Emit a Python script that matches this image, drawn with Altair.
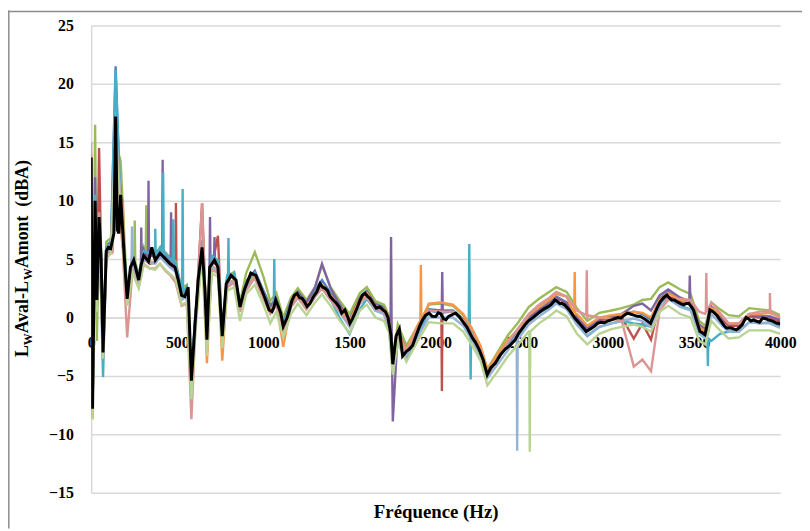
import altair as alt
import pandas as pd

# ---------------- data ----------------
FREQ_GRID = [0, 8, 23, 33, 46, 69, 88, 115, 142, 171,
             209, 240, 276, 305, 340, 372, 400, 430, 460, 490,
             525, 555, 582, 605, 644, 672, 700, 736, 761, 790,
             830, 864, 900, 950, 1000, 1040, 1075, 1115, 1160, 1200,
             1250, 1300, 1340, 1390, 1440, 1500, 1560, 1600, 1650, 1700,
             1730, 1751, 1780, 1830, 1900, 1960, 2030, 2100, 2160, 2220,
             2260, 2300, 2350, 2420, 2480, 2540, 2600, 2660, 2700, 2760,
             2820, 2880, 2950, 3020, 3080, 3150, 3200, 3250, 3300, 3350,
             3420, 3480, 3530, 3565, 3600, 3650, 3700, 3760, 3820, 3880,
             3940, 4000]

S_BLUE = [12.5, -8.2, 9.5, 2.5, 7.5, -2.0, 6.2, 6.5, 21.5, 9.0,
          2.0, 5.0, 3.5, 5.6, 5.3, 5.3, 5.8, 5.4, 4.9, 4.6,
          2.2, 2.5, -5.0, 0.0, 6.5, -1.5, 5.0, 4.6, -1.2, 3.4,
          3.7, 1.2, 3.1, 4.0, 2.3, 1.0, 1.7, -0.4, 1.5, 2.3,
          1.3, 2.4, 3.2, 2.1, 1.1, -0.2, 1.8, 2.3, 1.2, 0.9,
          -0.2, -3.6, -1.0, -2.6, -0.9, 0.7, 0.6, 0.6, -0.1, -1.6,
          -2.7, -4.6, -3.6, -2.2, -1.2, 0.0, 0.7, 1.3, 1.8, 1.3,
          0.0, -0.9, -0.2, 0.1, 0.3, 0.5, 0.3, -0.2, 1.6, 2.2,
          1.5, 1.2, -0.8, -1.2, 0.9, 0.1, -0.6, -0.6, 0.2, 0.1,
          0.1, -0.3]

S_RED = [13.0, -7.5, 9.0, 1.0, 14.5, -3.5, 5.5, 6.0, 16.0, 10.0,
         1.2, 4.5, 3.0, 5.0, 4.6, 4.7, 5.2, 4.8, 4.3, 4.0,
         1.7, 2.0, -5.6, -0.6, 9.8, -2.2, 4.3, 7.0, -1.8, 2.9,
         3.2, 0.7, 2.6, 3.5, 1.8, 0.5, 1.2, -1.0, 1.0, 1.8,
         0.8, 1.9, 2.6, 1.6, 0.6, -0.7, 1.3, 1.8, 0.7, 0.4,
         -0.7, -4.2, -1.5, -3.2, -1.0, 0.6, 0.5, 0.5, -0.2, -1.7,
         -2.8, -4.9, -3.8, -2.3, -1.3, -0.1, 0.6, 1.2, 1.7, 1.2,
         -0.1, -1.0, -0.3, 0.0, 0.0, -1.8, -0.5, -1.9, 1.2, 1.8,
         1.4, 1.1, -0.9, -1.3, 0.8, 0.0, -0.7, -0.7, 0.1, 0.0,
         0.0, -0.4]

S_GREEN = [14.0, -8.7, 16.5, -2.0, 7.0, -2.5, 6.5, 6.8, 15.0, 13.4,
           2.0, 5.5, 3.6, 6.0, 5.6, 5.4, 6.0, 5.6, 5.1, 4.8,
           2.5, 2.8, -6.0, 0.3, 6.5, -1.2, 5.1, 4.8, -1.0, 3.6,
           3.9, 1.3, 3.8, 5.6, 3.5, 1.4, 2.1, 0.0, 1.7, 2.5,
           1.5, 2.6, 4.5, 2.6, 1.5, 0.3, 2.1, 2.6, 1.4, 1.1,
           0.1, -3.4, -0.6, -2.4, -0.6, 1.1, 1.2, 1.0, 0.2, -1.4,
           -2.5, -4.4, -3.2, -1.5, -0.4, 0.9, 1.6, 2.2, 2.6, 2.2,
           0.8, -0.3, 0.4, 0.6, 0.8, 1.1, 1.5, 1.6, 2.6, 3.0,
           2.4, 2.0, -0.3, -0.7, 1.3, 0.7, 0.2, 0.1, 0.8, 0.7,
           0.6, 0.2]

S_PURPLE = [13.5, -7.0, 12.0, 1.0, 8.0, -3.0, 6.0, 6.3, 15.5, 10.8,
            1.9, 5.2, 3.5, 5.8, 5.3, 5.2, 5.8, 5.2, 4.8, 4.5,
            2.2, 2.5, -5.2, 0.0, 6.3, -1.8, 4.9, 4.6, -1.4, 3.3,
            3.6, 1.1, 3.0, 3.9, 2.2, 0.9, 1.6, -0.5, 1.4, 2.2,
            1.3, 2.6, 4.6, 2.5, 1.2, -0.2, 1.7, 2.2, 1.1, 0.8,
            -0.3, -8.9, -1.1, -2.8, -1.0, 0.6, 0.5, 0.5, -0.2, -1.7,
            -2.8, -4.7, -3.7, -2.3, -1.3, -0.1, 0.6, 1.2, 1.7, 1.3,
            0.0, -1.0, -0.2, 0.0, 0.3, 1.0, 1.2, 0.6, 1.9, 2.4,
            1.7, 1.4, -0.6, -1.0, 0.9, 0.1, -0.6, -0.5, 0.3, 0.1,
            0.1, -0.2]

S_TEAL = [12.0, -7.5, 10.5, 2.0, 9.0, -5.1, 6.0, 6.3, 21.2, 9.5,
          2.2, 5.0, 3.6, 5.7, 5.5, 5.4, 6.0, 5.5, 5.0, 4.7,
          2.3, 2.6, -4.8, 0.3, 6.6, -1.4, 5.3, 4.9, -1.0, 3.7,
          3.8, 1.0, 3.0, 3.8, 2.1, 0.7, 1.6, -0.5, 1.1, 2.0,
          0.9, 1.9, 2.6, 1.6, 0.0, -1.4, 0.7, 1.6, 0.6, 0.3,
          -1.0, -4.5, -2.2, -3.6, -1.5, 0.6, 0.4, 0.5, -0.3, -1.8,
          -2.9, -4.8, -3.7, -2.4, -1.4, -0.2, 0.4, 0.9, 1.4, 0.9,
          -0.6, -1.6, -0.8, -0.5, -0.3, -0.5, -0.6, -0.8, 1.0, 1.6,
          1.0, 0.7, -1.3, -1.7, -2.0, -1.4, -1.2, -1.2, -0.4, -0.5,
          -0.4, -0.8]

S_ORANGE = [13.0, -8.0, 9.5, 1.5, 8.5, -2.8, 5.8, 6.2, 15.0, 10.0,
            1.4, 4.4, 2.9, 5.1, 4.8, 4.7, 5.3, 4.8, 4.4, 4.0,
            1.6, 1.9, -5.7, -0.5, 6.0, -3.9, 4.4, 4.1, -3.7, 2.9,
            3.2, 0.7, 2.7, 3.6, 1.9, 0.6, 1.3, -2.5, 1.1, 1.9,
            1.0, 2.0, 2.8, 1.9, 0.9, -0.3, 1.6, 2.1, 1.0, 0.7,
            -0.4, -3.8, -1.2, -2.8, -0.5, 1.2, 1.3, 1.1, 0.3, -1.2,
            -2.4, -4.5, -3.3, -1.9, -1.0, 0.2, 0.9, 1.5, 2.0, 1.8,
            0.3, -0.7, 0.0, 0.2, 0.3, 0.5, 0.4, 0.0, 1.5, 2.1,
            1.5, 1.2, -0.8, -1.2, 0.8, 0.3, -0.5, -0.5, 0.3, 0.3,
            0.4, 0.0]

S_LIGHTBLUE = [13.0, -8.0, 9.5, 1.5, 8.0, -3.0, 5.5, 5.8, 16.5, 10.0,
               1.5, 4.4, 3.0, 5.0, 4.7, 4.6, 5.2, 4.7, 4.3, 3.9,
               1.5, 1.8, -5.6, -0.6, 5.6, -2.1, 4.3, 4.0, -1.8, 2.8,
               3.1, 0.6, 2.5, 3.4, 1.7, 0.4, 1.1, -1.0, 0.9, 1.7,
               0.7, 1.8, 2.5, 1.5, 0.5, -0.8, 1.2, 1.7, 0.6, 0.3,
               -0.8, -4.3, -1.6, -3.3, -1.5, 0.0, 0.0, 0.0, -0.7, -2.2,
               -3.3, -5.2, -4.2, -2.8, -1.8, -0.6, 0.1, 0.7, 1.2, 0.7,
               -0.6, -1.5, -0.8, -0.5, -0.3, -0.1, -0.3, -0.8, 1.0, 1.6,
               0.9, 0.6, -1.4, -1.8, 0.3, -0.5, -1.2, -1.2, -0.4, -0.5,
               -0.5, -0.9]

S_PINK = [15.0, -8.5, 9.0, 1.0, 9.0, -3.5, 5.5, 5.5, 15.5, 9.5,
          -1.7, 4.0, 2.6, 4.6, 4.2, 4.2, 4.6, 4.0, 3.6, 3.0,
          1.0, 1.2, -8.7, -1.0, 9.8, -2.4, 4.1, 3.8, -2.0, 2.6,
          3.0, 0.5, 2.3, 3.4, 1.6, 0.3, 1.0, -1.1, 0.9, 1.7,
          0.7, 1.8, 2.5, 1.5, 0.6, -0.6, 1.3, 1.8, 0.8, 0.5,
          -0.6, -4.0, -1.3, -3.0, -0.8, 0.6, 0.5, 0.5, -0.2, -1.7,
          -2.8, -4.9, -3.7, -2.1, -0.9, 0.3, 1.1, 1.7, 2.2, 1.8,
          0.6, -0.2, 0.0, -0.1, -0.3, -4.2, -3.6, -4.6, 0.6, 1.5,
          1.6, 1.5, 0.5, 0.3, 1.3, 0.4, -0.5, -0.5, 0.3, 0.5,
          0.7, 0.0]

S_LIGHTGREEN = [12.5, -8.7, 9.0, 0.5, 7.5, -3.5, 5.0, 5.5, 15.0, 9.0,
                1.0, 3.8, 2.5, 4.5, 4.2, 4.1, 4.6, 4.1, 3.7, 3.3,
                1.1, 1.3, -7.0, -1.2, 5.3, -3.3, 3.8, 3.5, -2.6, 2.3,
                2.6, -0.3, 2.0, 2.8, 1.1, -0.5, 0.5, -1.7, 0.3, 1.2,
                0.2, 1.3, 2.0, 1.0, -0.2, -1.3, 0.6, 1.1, 0.0, -0.3,
                -1.3, -4.9, -2.1, -3.8, -1.9, -0.4, -0.5, -0.5, -1.2, -2.6,
                -3.7, -5.8, -4.8, -3.3, -2.3, -1.2, -0.5, 0.1, 0.6, 0.1,
                -1.4, -2.3, -1.4, -1.0, -0.8, -0.6, -0.8, -1.2, 0.5, 1.0,
                0.3, 0.0, -2.0, -2.3, -0.3, -1.1, -1.8, -1.7, -1.1, -1.1,
                -1.1, -1.4]

# narrow spikes: (series, frequency, level around it, spike tip)
SPIKES = [
    ("teal", 418, 5.3, 12.4), ("teal", 531, 2.0, 11.0), ("teal", 372, 5.4, 7.6),
    ("teal", 477, 4.8, 8.4), ("teal", 797, 3.2, 6.8), ("teal", 1063, 1.0, 5.0),
    ("teal", 2195, -0.5, 6.3), ("teal", 2203, -0.8, -5.3), ("teal", 3580, -1.8, -4.15),
    ("purple", 291, 4.0, 7.7), ("purple", 333, 5.0, 11.7), ("purple", 415, 5.3, 13.5),
    ("purple", 464, 4.8, 9.0), ("purple", 690, 4.0, 8.6), ("purple", 716, 4.7, 6.9),
    ("purple", 1741, -0.3, 6.9), ("purple", 2038, 0.5, 3.9), ("purple", 3475, 1.4, 3.6),
    ("green", 253, 4.8, 8.3), ("green", 320, 5.5, 9.6),
    ("red", 184, 6.0, 10.1), ("red", 492, 4.0, 9.8), ("red", 2036, 0.5, -6.3),
    ("orange", 184, 6.0, 10.0), ("orange", 1914, -0.3, 4.5), ("orange", 2807, 0.3, 3.9),
    ("pink", 122, 5.5, 9.0), ("pink", 2877, 0.2, 4.05), ("pink", 3571, 0.5, 3.8),
    ("pink", 3940, 0.5, 2.1),
    ("lightblue", 237, 4.5, 7.8), ("lightblue", 2473, -1.5, -11.4),
    ("lightgreen", 2546, -1.2, -11.5),
]

BLACK_F = [0, 8, 23, 33, 46, 58, 69, 88, 100, 113, 132, 142, 152, 161, 171, 190,
           209, 228, 247, 276, 290, 305, 333, 352, 372, 400, 429, 458, 487, 506,
           525, 544, 563, 582, 602, 621, 644, 660, 672, 688, 716, 736, 761, 784,
           812, 841, 864, 889, 927, 956, 994, 1033, 1061, 1071, 1100, 1115, 1138,
           1167, 1195, 1224, 1253, 1291, 1329, 1358, 1387, 1425, 1454, 1473, 1502,
           1531, 1561, 1590, 1618, 1655, 1694, 1723, 1740, 1751, 1770, 1789, 1808,
           1847, 1885, 1924, 1962, 2000, 2030, 2059, 2090, 2117, 2155, 2213, 2251,
           2299, 2347, 2404, 2462, 2500, 2538, 2596, 2653, 2692, 2720, 2749, 2807,
           2874, 2921, 2960, 2998, 3040, 3075, 3113, 3150, 3190, 3247, 3270, 3304,
           3343, 3370, 3400, 3439, 3470, 3496, 3534, 3563, 3592, 3630, 3660, 3688,
           3745, 3780, 3802, 3830, 3860, 3898, 3930, 3955, 3980, 4000]
BLACK_V = [13.7, -7.8, 10.0, 1.5, 8.6, 5.0, -3.0, 5.7, 6.0, 5.9, 7.2, 17.2, 7.5, 7.2, 10.5, 5.7,
           1.6, 4.3, 4.9, 3.2, 4.5, 5.3, 4.8, 6.0, 4.9, 5.5, 5.05, 4.6, 4.3, 3.2,
           1.9, 1.8, 2.6, -5.4, -0.8, 3.2, 6.0, 2.5, -1.9, 4.3, 4.9, 4.3, -1.6, 2.9,
           3.6, 3.2, 0.9, 2.35, 3.8, 3.6, 2.2, 0.65, 0.9, 1.5, 0.4, -0.76, 0.0,
           1.5, 2.07, 1.65, 0.94, 1.8, 2.9, 2.5, 1.8, 1.2, 0.37, 0.65, -0.5,
           0.37, 1.5, 2.07, 1.65, 0.8, 0.65, 0.0, -1.5, -4.0, -1.6, -1.0, -3.3,
           -2.7, -1.6, -0.2, 0.37, 0.08, 0.3, -0.2, 0.2, 0.37, -0.3, -1.75, -2.7,
           -4.9, -3.9, -2.7, -1.9, -1.0, -0.3, 0.37, 0.93, 1.5, 1.2, 1.08, -0.05,
           -1.2, -0.76, -0.4, -0.3, -0.1, -0.05, 0.37, 0.2, 0.08, -0.5, 0.3, 1.36,
           1.93, 1.5, 1.36, 1.08, 1.2, 0.65, -1.2, -1.47, 0.65, 0.22, -0.4, -0.9,
           -1.05, -0.6, 0.0, -0.3, -0.3, -0.05, -0.2, -0.3, -0.5, -0.6]

# extra small wiggles of the black mean curve
BLACK_F2 = [1010, 1050, 1085, 1150, 1180, 1210, 1240, 1270, 1310, 1343, 1372, 1405,
            1440, 1488, 1517, 1546, 1575, 1605, 1637, 1675, 1708, 1830, 1866, 1905,
            1942, 1980, 2015, 2045, 2075, 2102, 2135, 2180, 2230, 2275, 2320, 2375,
            2430, 2480, 2520, 2565, 2625, 2670, 2705, 2735, 2778, 2840, 2895, 2940,
            2980, 3020, 3058, 3095, 3130, 3170, 3220, 3288, 3323, 3355, 3385, 3420,
            3455, 3485, 3515, 3548, 3578, 3610, 3645, 3675, 3715, 3760, 3790, 3815,
            3845, 3880, 3915, 3943, 3968, 3990]
BLACK_V2 = [1.6, 0.5, 1.0, 0.6, 1.9, 1.7, 1.3, 1.2, 2.2, 2.6, 2.3, 1.5,
            0.9, 0.1, -0.1, 0.9, 1.9, 1.8, 1.2, 0.9, 0.5, -2.9, -2.4, -0.8,
            0.2, 0.1, 0.4, -0.1, 0.1, 0.3, 0.1, -0.8, -2.1, -3.6, -4.3, -3.2,
            -2.4, -1.4, -0.6, 0.0, 0.7, 1.1, 1.4, 1.2, 0.6, -0.6, -1.0, -0.5,
            -0.45, -0.2, 0.0, 0.2, 0.3, 0.1, -0.2, 0.9, 1.7, 1.7, 1.5, 1.2,
            1.2, 0.9, -0.3, -1.3, -0.5, 0.5, -0.1, -0.7, -0.9, -0.9, -0.3, -0.1,
            -0.2, -0.4, -0.1, -0.25, -0.4, -0.5]

SERIES = [("blue", "#4F81BD", S_BLUE), ("red", "#C0504D", S_RED),
          ("green", "#9BBB59", S_GREEN), ("purple", "#8064A2", S_PURPLE),
          ("teal", "#4BACC6", S_TEAL), ("orange", "#F79646", S_ORANGE),
          ("lightblue", "#95B3D7", S_LIGHTBLUE), ("pink", "#DA9694", S_PINK),
          ("lightgreen", "#B9D492", S_LIGHTGREEN)]

X_TICKS = [0, 500, 1000, 1500, 2000, 2500, 3000, 3500, 4000]
Y_TICKS = [-15, -10, -5, 0, 5, 10, 15, 20, 25]

assert len(BLACK_F) == len(BLACK_V)
assert len(BLACK_F2) == len(BLACK_V2)
for _n, _c, _v in SERIES:
    assert len(_v) == len(FREQ_GRID), _n

# ---------------- chart ----------------
W, H = 696, 472
SERIF = "Liberation Serif"
GRID = "#d9d9d9"

x_enc = alt.X("f:Q", scale=alt.Scale(domain=[0, 4000], nice=False, zero=False),
              axis=alt.Axis(values=X_TICKS, grid=False, ticks=False, domain=True,
                            domainColor=GRID, domainWidth=1.5, labelFont=SERIF,
                            labelFontSize=16, labelFontWeight="bold", labelColor="#000",
                            labelPadding=17, labelFlush=False, labelOverlap=False,
                            offset=-177, format="d",
                            title="Fréquence (Hz)", titleFont=SERIF, titleFontSize=19,
                            titleFontWeight="bold", titleColor="#000",
                            titleY=196, titleBaseline="middle"))
y_enc = alt.Y("v:Q", scale=alt.Scale(domain=[-15, 25], nice=False, zero=False),
              axis=alt.Axis(values=Y_TICKS, grid=True, gridColor=GRID, gridWidth=1.5,
                            ticks=False, domain=True, domainColor=GRID, domainWidth=1.5,
                            labelFont=SERIF, labelFontSize=16, labelFontWeight="bold",
                            labelColor="#000", labelPadding=18, title=None))

layers = []
for name, color, vals in SERIES:
    pts = list(zip(FREQ_GRID, vals))
    for s, f, base, peak in SPIKES:
        if s == name:
            pts += [(f - 3, base), (f, peak), (f + 3, base)]
    pts.sort()
    df = pd.DataFrame(pts, columns=["f", "v"])
    layers.append(alt.Chart(df).mark_line(color=color, strokeWidth=2.4, clip=True)
                  .encode(x=x_enc, y=y_enc))

black_pts = sorted(list(zip(BLACK_F, BLACK_V)) + list(zip(BLACK_F2, BLACK_V2)))
black_df = pd.DataFrame(black_pts, columns=["f", "v"])
layers.append(alt.Chart(black_df).mark_line(color="#000", strokeWidth=3, clip=True)
              .encode(x=x_enc, y=y_enc))

one = pd.DataFrame({"k": [0]})

# y title with subscripts, built from pieces
BASE_X = -64
pieces = [("L", 335, 18, 0), ("W", 323, 12, 4), ("Aval-L", 311, 18, 0),
          ("W", 257, 12, 4), ("Amont\u00a0\u00a0(dBA)", 245, 18, 0)]
for txt, py, fs, dx in pieces:
    layers.append(alt.Chart(one).mark_text(text=txt, angle=270, align="left",
                                           baseline="alphabetic", font=SERIF,
                                           fontSize=fs, fontWeight="bold", color="#000")
                  .encode(x=alt.value(BASE_X + dx), y=alt.value(py)))

# outer chart frame (top and left edges)
FRAME = "#8c8c8c"
layers.append(alt.Chart(one).mark_rule(color=FRAME, strokeWidth=1.5)
              .encode(x=alt.value(-84), x2=alt.value(W + 22), y=alt.value(-14.2)))
layers.append(alt.Chart(one).mark_rule(color=FRAME, strokeWidth=1.5)
              .encode(x=alt.value(-83.2), y=alt.value(-15), y2=alt.value(H + 36)))

chart = (alt.layer(*layers)
         .properties(width=W, height=H,
                     padding={"left": 84, "top": 15, "right": 22, "bottom": 36},
                     autosize=alt.AutoSizeParams(type="none"),
                     background="white")
         .configure_view(stroke=None))

chart.save("out.html", embed_options={"renderer": "svg", "actions": False})
